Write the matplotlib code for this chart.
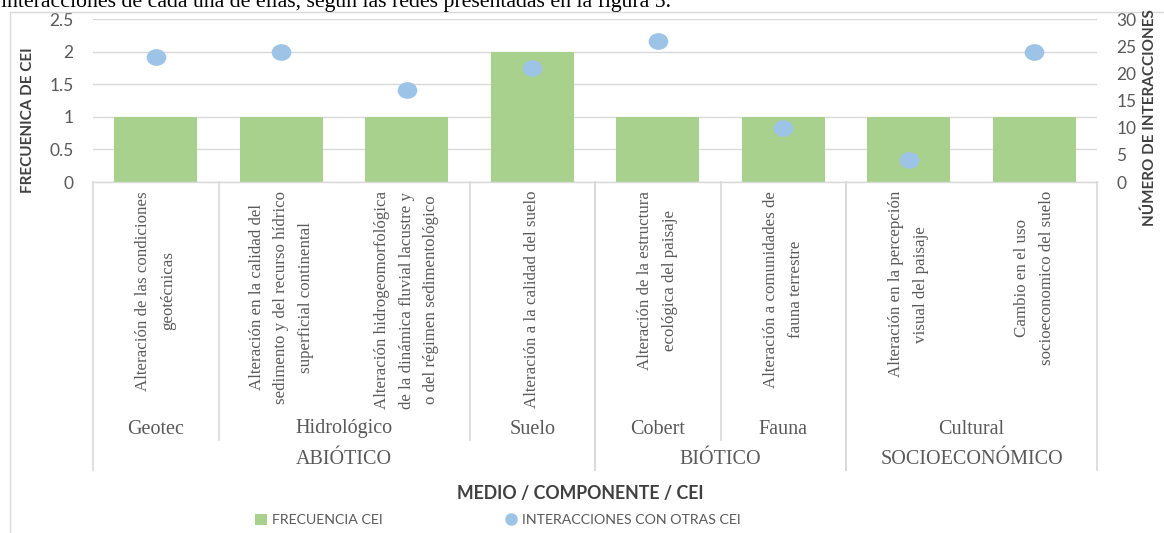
import matplotlib.pyplot as plt
import matplotlib.transforms as mtransforms
from matplotlib.lines import Line2D
from matplotlib.patches import Patch
from matplotlib.path import Path

# datos
cei = [
    "Alteración de las condiciones\ngeotécnicas",
    "Alteración en la calidad del\nsedimento y del recurso hídrico\nsuperficial continental",
    "Alteración hidrogeomorfológica\nde la dinámica fluvial lacustre y\no del régimen sedimentológico",
    "Alteración a la calidad del suelo",
    "Alteración de la estructura\necológica del paisaje",
    "Alteración a comunidades de\nfauna terrestre",
    "Alteración en la percepción\nvisual del paisaje",
    "Cambio en el uso\nsocioeconomico del suelo",
]
frecuencia = [1, 1, 1, 2, 1, 1, 1, 1]
interacciones = [23, 24, 17, 21, 26, 10, 4, 24]
componentes = ["Geotec", "Hidrológico", "Hidrológico", "Suelo", "Cobert", "Fauna", "Cultural", "Cultural"]
medios = ["ABIÓTICO", "ABIÓTICO", "ABIÓTICO", "ABIÓTICO", "BIÓTICO", "BIÓTICO",
          "SOCIOECONÓMICO", "SOCIOECONÓMICO"]
left_ticks = [0, 0.5, 1, 1.5, 2, 2.5]
left_ticklabels = ["0", "0.5", "1", "1.5", "2", "2.5"]
right_ticks = [0, 5, 10, 15, 20, 25, 30]

verde = "#A9D18E"
azul = "#9DC3E6"
gris = "#595959"
linea = "#D9D9D9"
sans = "Lato"
serif = "Liberation Serif"

W, H = 1164, 533
fig = plt.figure(figsize=(W / 100, H / 100), dpi=100)
ax = fig.add_axes([93 / W, 1 - 182 / H, 1004 / W, 163 / H])

x = list(range(len(cei)))
ax.bar(x, frecuencia, width=0.66, color=verde, zorder=2)
ax.set_xlim(-0.5, len(cei) - 0.5)
ax.set_ylim(0, 2.5)
ax.set_yticks(left_ticks)
ax.set_yticklabels(left_ticklabels)
ax.set_xticks([])
ax.grid(axis="y", color=linea, lw=1, zorder=0)
for sp in ax.spines.values():
    sp.set_visible(False)
ax.tick_params(length=0, colors=gris, labelsize=12.5, pad=14)
for t in ax.get_yticklabels():
    t.set_family(sans)

# puntos algo achatados, como en el original
ovalo = Path(Path.unit_circle().vertices * [1, 0.85], Path.unit_circle().codes)
ax2 = ax.twinx()
ax2.scatter(x, interacciones, s=200, marker=ovalo, color=azul, zorder=3, linewidths=0)
ax2.set_ylim(0, 30)
ax2.set_yticks(right_ticks)
for sp in ax2.spines.values():
    sp.set_visible(False)
ax2.tick_params(length=0, colors=gris, labelsize=12.5, pad=14)
for t in ax2.get_yticklabels():
    t.set_family(sans)

# tabla de categorias bajo el eje
tr = mtransforms.blended_transform_factory(ax.transData, fig.transFigure)
fy = lambda px: 1 - px / H

ax.plot([-0.5, len(cei) - 0.5], [fy(182), fy(182)], color=linea, lw=1,
        transform=tr, clip_on=False)

for i, txt in enumerate(cei):
    ax.text(i, fy(191), txt, rotation=90, ha="center", va="top",
            multialignment="center", family=serif, fontsize=12.2,
            color=gris, linespacing=1.72, transform=tr)


def grupos(nombres):
    out = []
    start = 0
    for i in range(1, len(nombres) + 1):
        if i == len(nombres) or nombres[i] != nombres[start]:
            out.append((nombres[start], start, i - 1))
            start = i
    return out


for nombre, a, b in grupos(componentes):
    ax.text((a + b) / 2, fy(429), nombre, ha="center", va="center",
            family=serif, fontsize=14.5, color=gris, transform=tr)
    if a > 0:
        ax.plot([a - 0.5, a - 0.5], [fy(182), fy(440)], color=linea, lw=1.2,
                transform=tr, clip_on=False)

for nombre, a, b in grupos(medios):
    ax.text((a + b) / 2, fy(459), nombre, ha="center", va="center",
            family=serif, fontsize=14.5, color=gris, transform=tr)
    for edge in (a - 0.5, b + 0.5):
        ax.plot([edge, edge], [fy(182), fy(470)], color=linea, lw=1.2,
                transform=tr, clip_on=False)

# titulos de ejes
fig.text(28 / W, fy(120), "FRECUENICA DE CEI", rotation=90, ha="center", va="center",
         family=sans, fontweight="bold", fontsize=11, color="#404040")
fig.text(1150 / W, fy(118), "NÚMERO DE INTERACCIONES", rotation=90, ha="center",
         va="center", family=sans, fontweight="bold", fontsize=11, color="#404040")
fig.text(580 / W, fy(494), "MEDIO / COMPONENTE / CEI", ha="center", va="center",
         family=sans, fontweight="bold", fontsize=12.8, color="#404040")

handles = [
    Patch(facecolor=verde, edgecolor="none", label="FRECUENCIA CEI"),
    Line2D([], [], marker="o", ls="none", color=azul, markersize=8,
           label="INTERACCIONES CON OTRAS CEI"),
]
fig.legend(handles=handles, loc="center", bbox_to_anchor=(498 / W, fy(520)), ncol=2,
           frameon=False, handlelength=0.8, handleheight=0.8, handletextpad=0.4,
           columnspacing=8.6, prop={"family": sans, "size": 10.2}, labelcolor=gris,
           borderpad=0)

# texto del documento y borde del grafico
fig.text(1 / W, fy(7), "interacciones de cada una de ellas, según las redes presentadas en la figura 5.",
         ha="left", va="baseline", family=serif, fontsize=15.7, color="black")
fig.add_artist(Line2D([10 / W, 10 / W], [0, fy(12)], color=linea, lw=1))
fig.add_artist(Line2D([10 / W, 1], [fy(12), fy(12)], color=linea, lw=1))

fig.savefig("out.png", dpi=100)
